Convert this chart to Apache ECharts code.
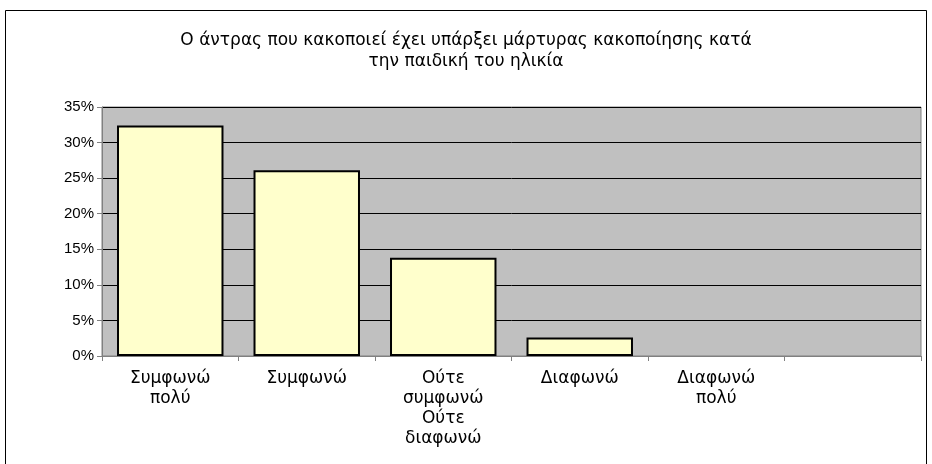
<!DOCTYPE html>
<html>
<head>
<meta charset="utf-8">
<script src="https://cdn.jsdelivr.net/npm/echarts@6/dist/echarts.min.js"></script>
<style>
  html, body { margin: 0; padding: 0; background: #ffffff; }
  #chart { width: 932px; height: 464px; }
</style>
</head>
<body>
<div id="chart"></div>
<script>
const categories = ['Συμφωνώ\nπολύ', 'Συμφωνώ', 'Ούτε\nσυμφωνώ\nΟύτε\nδιαφωνώ', 'Διαφωνώ', 'Διαφωνώ\nπολύ', ''];
const values = [0.324, 0.261, 0.138, 0.026, 0, null];
const yTicks = [0, 0.05, 0.1, 0.15, 0.2, 0.25, 0.3, 0.35];

const chart = echarts.init(document.getElementById('chart'));

// zero-height bars get no outline (Excel draws nothing there)
const barData = values.map((v) => {
  if (v === 0) {
    return { value: v, itemStyle: { borderWidth: 0 } };
  }
  return v;
});

const option = {
  animation: false,
  backgroundColor: '#ffffff',
  textStyle: { fontFamily: '"Liberation Sans", Arial, sans-serif' },
  title: {
    text: 'Ο άντρας που κακοποιεί έχει υπάρξει μάρτυρας κακοποίησης κατά\nτην παιδική του ηλικία',
    left: 'center',
    top: 25,
    textStyle: {
      fontFamily: '"DejaVu Sans", sans-serif',
      fontSize: 17,
      fontWeight: 'normal',
      color: '#000000',
      lineHeight: 21,
    },
  },
  graphic: [
    {
      type: 'rect',
      shape: { x: 5.5, y: 10.5, width: 921, height: 460 },
      style: { fill: 'none', stroke: '#000000', lineWidth: 1 },
      silent: true,
    },
  ],
  grid: {
    left: 102,
    right: 11,
    top: 107,
    bottom: 108,
    show: true,
    backgroundColor: '#c0c0c0',
    borderColor: '#808080',
    borderWidth: 1,
  },
  xAxis: {
    type: 'category',
    data: categories,
    axisLine: { lineStyle: { color: '#808080', width: 1 } },
    axisTick: { show: true, length: 5, lineStyle: { color: '#808080' } },
    axisLabel: {
      interval: 0,
      color: '#000000',
      fontFamily: '"DejaVu Sans", sans-serif',
      fontSize: 17,
      lineHeight: 20,
      margin: 13,
    },
  },
  yAxis: {
    type: 'value',
    min: 0,
    max: 0.35,
    interval: 0.05,
    axisLine: { show: true, lineStyle: { color: '#808080', width: 1 } },
    axisTick: { show: true, length: 5, inside: false, lineStyle: { color: '#808080' } },
    axisLabel: {
      color: '#000000',
      fontSize: 15,
      margin: 8,
      formatter: (v) => {
        const t = yTicks.find((x) => Math.abs(x - v) < 1e-9);
        return Math.round((t === undefined ? v : t) * 100) + '%';
      },
    },
    splitLine: { show: true, lineStyle: { color: '#000000', width: 1 } },
  },
  series: [
    {
      type: 'bar',
      data: barData,
      barWidth: '78%',
      itemStyle: {
        color: '#ffffcc',
        borderColor: '#000000',
        borderWidth: 2,
      },
    },
  ],
};

chart.setOption(option);
</script>
</body>
</html>
